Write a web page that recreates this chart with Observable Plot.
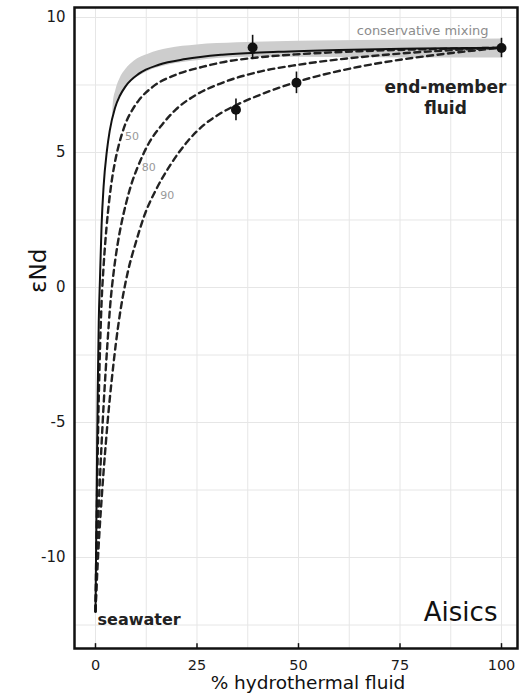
<!DOCTYPE html>
<html><head><meta charset="utf-8">
<script src="https://cdn.jsdelivr.net/npm/d3@7"></script>
<script src="https://cdn.jsdelivr.net/npm/@observablehq/plot@0.6"></script>
<style>body{margin:0;background:#fff}</style>
</head><body><div id="chart"></div>
<script>
// % hydrothermal fluid vs εNd
const conservative = [[0,-12],[0.15,-9.8],[0.35,-6.8],[0.55,-3.8],[0.8,-1.3],[1.1,0.3],[1.5,2.3],[2,3.75],[2.8,5.05],[3.5,5.8],[4.8,6.65],[6,7.1],[7.4,7.45],[10.7,7.92],[15.6,8.25],[22.2,8.46],[31.2,8.62],[45,8.73],[60,8.8],[80,8.85],[100,8.88]];
const bandUpper = [[4.2,6.35],[4.4,6.85],[5.0,7.3],[6.0,7.72],[7.5,8.08],[9.5,8.38],[13,8.64],[18,8.85],[25,8.98],[35,9.06],[50,9.12],[70,9.16],[85,9.18],[100,9.2]];
const bandLower = [[4.2,6.35],[5.2,6.8],[6.3,7.1],[7.5,7.4],[9,7.65],[10.7,7.82],[14,8.07],[18,8.24],[25,8.4],[35,8.52],[50,8.53],[70,8.51],[85,8.5],[100,8.5]];
const removal50 = [[0,-12],[0.25,-9.2],[0.5,-6.6],[0.75,-4.5],[1,-2.9],[1.5,-0.55],[2,0.8],[2.7,2.2],[3.4,3.25],[4,3.95],[4.8,4.65],[5.7,5.25],[6.5,5.68],[7.6,6.15],[9,6.56],[10.7,6.94],[14,7.42],[20.5,7.92],[26.3,8.17],[31.2,8.34],[40,8.52],[50,8.64],[65,8.75],[80,8.82],[100,8.88]];
const removal80 = [[0,-12],[0.3,-10.4],[0.6,-9.0],[1,-7.4],[1.5,-5.8],[2,-4.35],[2.5,-3.1],[3,-1.95],[3.6,-0.7],[4.5,0.6],[5.5,1.65],[6.5,2.45],[7.5,3.1],[9,3.9],[10.5,4.5],[13.2,5.36],[16.4,6.03],[19.7,6.58],[24.6,7.12],[31.2,7.58],[40,7.98],[50,8.25],[60,8.45],[70,8.6],[80,8.72],[90,8.81],[100,8.88]];
const removal90 = [[0,-12],[0.5,-10.35],[1,-9.0],[1.5,-7.85],[2,-6.8],[2.5,-5.85],[3,-4.95],[3.5,-4.15],[4,-3.42],[5,-2.1],[6,-1.0],[7,-0.12],[8,0.6],[10,1.7],[12,2.65],[15,3.65],[18.5,4.55],[22.6,5.4],[26.7,6.02],[30.8,6.45],[34.7,6.76],[40.6,7.14],[48.8,7.58],[61.2,8.06],[73.5,8.4],[85.8,8.65],[100,8.88]];
const samplePct = [34.6, 38.7, 49.5, 100];
const sampleENd = [6.58, 8.89, 7.58, 8.87];
const sampleErr = [0.4, 0.45, 0.4, 0.36];
const curveLabelText = ["50", "80", "90"];
const curveLabelX = [9.0, 13.1, 17.7];
const curveLabelY = [5.59, 4.46, 3.41];
const xTicks = [0, 25, 50, 75, 100];
const yTicks = [-10, -5, 0, 5, 10];
const xGrid = [0, 12.5, 25, 37.5, 50, 62.5, 75, 87.5, 100];
const yGrid = [-12.5, -10, -7.5, -5, -2.5, 0, 2.5, 5, 7.5, 10];
const xDomain = [-5.17, 103.94];
const yDomain = [-13.37, 10.37];

const pts = a => a.map(([x, y]) => ({x, y}));
const band = bandUpper.map((u, i) => ({x1: u[0], y1: u[1], x2: bandLower[i][0], y2: bandLower[i][1]}));
const samples = samplePct.map((p, i) => ({x: p, y: sampleENd[i], lo: sampleENd[i] - sampleErr[i], hi: sampleENd[i] + sampleErr[i]}));
const curveLabels = curveLabelText.map((t, i) => ({t, x: curveLabelX[i], y: curveLabelY[i]}));
const font = "DejaVu Sans, sans-serif";
const dash = {stroke: "#222", strokeWidth: 2.4, strokeDasharray: "6,4.5", curve: "monotone-x"};

const chart = Plot.plot({
  width: 522, height: 699,
  marginLeft: 74, marginRight: 5, marginTop: 7, marginBottom: 51,
  style: {fontFamily: font, background: "#fff", color: "#1a1a1a"},
  x: {domain: xDomain},
  y: {domain: yDomain},
  marks: [
    Plot.gridX(xGrid, {stroke: "#e6e6e6", strokeOpacity: 1, strokeWidth: 1}),
    Plot.gridY(yGrid, {stroke: "#e6e6e6", strokeOpacity: 1, strokeWidth: 1}),
    Plot.area(band, {x1: "x1", y1: "y1", x2: "x2", y2: "y2", fill: "#cdcdcd", curve: "monotone-x"}),
    Plot.line(pts(removal50), {x: "x", y: "y", ...dash}),
    Plot.line(pts(removal80), {x: "x", y: "y", ...dash}),
    Plot.line(pts(removal90), {x: "x", y: "y", ...dash}),
    Plot.line(pts(conservative), {x: "x", y: "y", stroke: "#111", strokeWidth: 2, curve: "monotone-x"}),
    Plot.ruleX(samples, {x: "x", y1: "lo", y2: "hi", stroke: "#111", strokeWidth: 1.6}),
    Plot.dot(samples, {x: "x", y: "y", r: 5, fill: "#111", stroke: "none"}),
    Plot.text(curveLabels, {x: "x", y: "y", text: "t", fill: "#999", fontSize: 11}),
    Plot.text(["conservative mixing"], {x: [96.8], y: [9.52], text: d => d, textAnchor: "end", fill: "#8c8c8c", fontSize: 13}),
    Plot.text(["end-member", "fluid"], {x: [86.2, 86.2], y: [7.41, 6.63], text: d => d, fill: "#222", fontSize: 17, fontWeight: "bold"}),
    Plot.text(["seawater"], {x: [0.5], y: [-12.3], text: d => d, textAnchor: "start", fill: "#222", fontSize: 16, fontWeight: "bold"}),
    Plot.text(["Aisics"], {x: [99], y: [-12.05], text: d => d, textAnchor: "end", fill: "#111", fontSize: 26}),
    Plot.frame({stroke: "#111", strokeWidth: 2.5}),
    Plot.ruleX(xTicks, {x: d => d, y1: yDomain[0], y2: yDomain[0] + 0.18, stroke: "#111", strokeWidth: 1.5}),
    Plot.axisX(xTicks, {tickSize: 0, tickPadding: 11, fontSize: 14.5, label: null, tickFormat: d => String(d)}),
    Plot.axisY(yTicks, {tickSize: 0, tickPadding: 9, fontSize: 15, label: null, tickFormat: d => String(d)}),
    Plot.text(["% hydrothermal fluid"], {frameAnchor: "bottom", dx: 12, dy: 40, fontSize: 18.5, fill: "#111"}),
    Plot.text(["εNd"], {frameAnchor: "left", dx: -36, dy: -35, rotate: -90, fontSize: 23, fill: "#111"})
  ]
});
document.getElementById("chart").appendChild(chart);
</script>
</body></html>
